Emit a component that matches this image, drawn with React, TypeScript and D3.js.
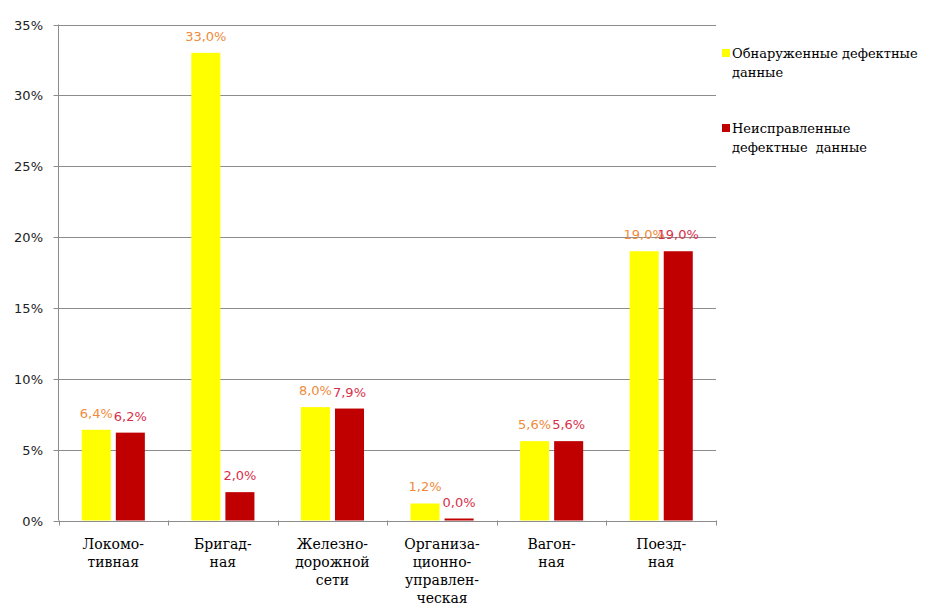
import React from "react";
import * as d3 from "d3";

const categories: string[][] = [
  ["Локомо-", "тивная"],
  ["Бригад-", "ная"],
  ["Железно-", "дорожной", "сети"],
  ["Организа-", "ционно-", "управлен-", "ческая"],
  ["Вагон-", "ная"],
  ["Поезд-", "ная"],
];
const detected = [6.4, 33.0, 8.0, 1.2, 5.6, 19.0];
const unfixed = [6.2, 2.0, 7.9, 0.0, 5.6, 19.0];
const yTicks = [0, 5, 10, 15, 20, 25, 30, 35];
const seriesNames = [
  ["Обнаруженные дефектные", "данные"],
  ["Неисправленные", "дефектные  данные"],
];

const W = 925;
const H = 606;
const left = 58.5;
const right = 716;
const top = 24.5;
const bottom = 520.5;
const SERIF = "DejaVu Serif";

export default function App() {
  const x = d3
    .scaleBand<number>()
    .domain(categories.map((_, i) => i))
    .range([left, right])
    .paddingInner(0)
    .paddingOuter(0);
  const y = d3.scaleLinear().domain([0, 35]).range([bottom, top]);
  const bw = x.bandwidth();
  const barW = bw * 0.265;
  const gap = bw * 0.046;
  const startOff = (bw - 2 * barW - gap) / 2;
  const colors = ["#FFFF00", "#C00000"];
  const labelColors = ["#F08A3C", "#D9304A"];
  const fmt = (v: number) => v.toFixed(1).replace(".", ",") + "%";

  return (
    <svg width={W} height={H} style={{ position: "absolute", left: 0, top: 0, background: "#fff" }}>
      <rect x={0} y={0} width={W} height={H} fill="#fff" />
      {yTicks.map((t) => (
        <g key={t}>
          <line x1={left - 5} x2={right} y1={Math.round(y(t)) + 0.5} y2={Math.round(y(t)) + 0.5} stroke="#8c8c8c" strokeWidth={1} />
          <text x={43} y={y(t) + 5} textAnchor="end" style={{ fontFamily: "DejaVu Sans", fontSize: 13 }} fill="#222">
            {t}%
          </text>
        </g>
      ))}
      <line x1={left} x2={left} y1={top} y2={bottom} stroke="#8c8c8c" />
      {d3.range(categories.length + 1).map((i) => {
        const xx = Math.round(left + i * bw) + 0.5;
        return <line key={i} x1={xx} x2={xx} y1={bottom} y2={bottom + 5} stroke="#8c8c8c" />;
      })}
      {[detected, unfixed].map((series, s) =>
        series.map((v, i) => {
          const bx = (x(i) as number) + startOff + s * (barW + gap);
          const h = Math.max(bottom - y(v), v === 0 ? 2 : 0);
          return (
            <g key={`${s}-${i}`}>
              <rect x={bx} y={bottom - h} width={barW} height={h} fill={colors[s]} />
              <text
                x={bx + barW / 2}
                y={bottom - h - 12}
                textAnchor="middle"
                style={{ fontFamily: "DejaVu Sans", fontSize: 13 }}
                fill={labelColors[s]}
              >
                {fmt(v)}
              </text>
            </g>
          );
        })
      )}
      {categories.map((lines, i) => (
        <text
          key={i}
          x={(x(i) as number) + bw / 2}
          textAnchor="middle"
          style={{ fontFamily: SERIF, fontSize: 14 }}
          fill="#000"
        >
          {lines.map((l, j) => (
            <tspan key={j} x={(x(i) as number) + bw / 2} y={549 + j * 18}>
              {l}
            </tspan>
          ))}
        </text>
      ))}
      {seriesNames.map((lines, s) => {
        const ly = s === 0 ? 58 : 133;
        return (
          <g key={s}>
            <rect x={722} y={ly - 9} width={8} height={8} fill={colors[s]} />
            {lines.map((l, j) => (
              <text key={j} x={732} y={ly + j * 19} fill="#000" style={{ fontFamily: SERIF, fontSize: 13, whiteSpace: "pre" }}>
                {l}
              </text>
            ))}
          </g>
        );
      })}
    </svg>
  );
}
